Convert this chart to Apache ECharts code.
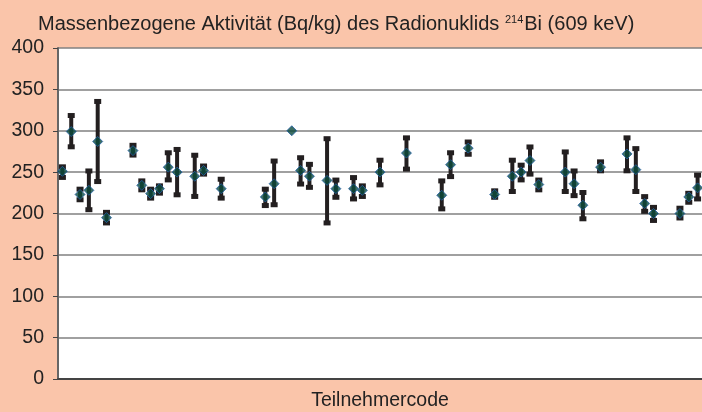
<!DOCTYPE html>
<html>
<head>
<meta charset="utf-8">
<script src="https://cdn.jsdelivr.net/npm/echarts@6/dist/echarts.min.js"></script>
<style>
  html, body { margin: 0; padding: 0; background: #FAC5AA; }
  #chart { width: 702px; height: 412px; }
</style>
</head>
<body>
<div id="chart"></div>
<script>
var myChart = echarts.init(document.getElementById('chart'));

// Teilnehmer (73 Positionen), Mittelwert und Unsicherheitsgrenzen in Bq/kg
var codes = [];
for (var i = 1; i <= 73; i++) codes.push(String(i));

var werte = [251, 299, 223, 228, 287, 195, null, null, 276, 234, 224, 230, 256, 250, null, 245, 252, null, 230, null,
             null, null, null, 220, 236, null, 300, 252, 245, null, 240, 230, null, 230, 228, null, 250, null, null, 273,
             null, null, null, 222, 259, null, 279, null, null, 223, null, 245, 250, 264, 235, null, null, 250, 236, 210,
             null, 256, null, null, 272, 253, 212, 200, null, null, 200, 220, 231];
var unten = [243, 280, 216, 204, 238, 188, null, null, 270, 228, 218, 224, 240, 222, null, 220, 247, null, 218, null,
             null, null, null, 209, 210, null, null, 235, 231, null, 188, 219, null, 217, 220, null, 234, null, null, 253,
             null, null, null, 205, 244, null, 271, null, null, 219, null, 226, 240, 247, 228, null, null, 226, 221, 193,
             null, 251, null, null, 251, 226, 202, 191, null, null, 194, 213, 217];
var oben = [257, 319, 230, 252, 336, 202, null, null, 283, 240, 230, 234, 274, 278, null, 271, 258, null, 242, null,
            null, null, null, 230, 264, null, null, 268, 260, null, 291, 241, null, 244, 234, null, 265, null, null, 292,
            null, null, null, 240, 274, null, 287, null, null, 228, null, 265, 259, 281, 241, null, null, 275, 252, 226,
            null, 263, null, null, 292, 279, 221, 208, null, null, 207, 225, 247];

var fehlerDaten = [];
for (var k = 0; k < codes.length; k++) {
    if (unten[k] != null) fehlerDaten.push([k, unten[k], oben[k]]);
}

var schrift = 'Liberation Sans';

var option = {
    backgroundColor: '#FAC5AA',
    animation: false,
    title: {
        text: '{a|Massenbezogene Aktivität (Bq/kg) des Radionuklids }{s|214}{a|Bi (609 keV)}',
        left: 33,
        top: 9,
        textStyle: {
            rich: {
                a: { fontFamily: schrift, fontSize: 20, color: '#222', fontWeight: 'normal' },
                s: { fontFamily: schrift, fontSize: 11, color: '#222', fontWeight: 'normal', verticalAlign: 'top', padding: [0, 1, 9, 0] }
            }
        }
    },
    grid: {
        left: 58,
        right: 0,
        top: 48,
        bottom: 33,
        outerBoundsMode: 'none',
        containLabel: false,
        show: true,
        backgroundColor: '#fff',
        borderWidth: 0
    },
    xAxis: {
        type: 'category',
        data: codes,
        name: 'Teilnehmercode',
        nameLocation: 'middle',
        nameGap: 12,
        nameTextStyle: { fontFamily: schrift, fontSize: 19.5, color: '#222', verticalAlign: 'top' },
        axisLine: { show: true, lineStyle: { color: '#444', width: 2 } },
        axisTick: { show: false },
        axisLabel: { show: false },
        splitLine: { show: false }
    },
    yAxis: {
        type: 'value',
        min: 0,
        max: 400,
        interval: 50,
        axisLine: { show: true, lineStyle: { color: '#666', width: 2 } },
        axisTick: { show: true, length: 5, lineStyle: { color: '#444', width: 1 } },
        axisLabel: { fontFamily: schrift, fontSize: 19.5, color: '#222', margin: 14 },
        splitLine: { show: true, lineStyle: { color: '#808080', width: 1.5 } }
    },
    series: [{
        name: 'Unsicherheit',
        type: 'custom',
        data: fehlerDaten,
        encode: { x: 0, y: [1, 2] },
        renderItem: function (params, api) {
            var x = api.value(0);
            var lo = api.coord([x, api.value(1)]);
            var hi = api.coord([x, api.value(2)]);
            var st = { fill: '#231f20' };
            return {
                type: 'group',
                children: [
                    { type: 'rect', shape: { x: lo[0] - 2, y: hi[1], width: 4, height: lo[1] - hi[1] }, style: st },
                    { type: 'rect', shape: { x: hi[0] - 3.5, y: hi[1] - 2, width: 7, height: 5 }, style: st },
                    { type: 'rect', shape: { x: lo[0] - 3.5, y: lo[1] - 3, width: 7, height: 5 }, style: st }
                ]
            };
        },
        z: 2
    }, {
        name: 'Mittelwert',
        type: 'scatter',
        data: werte,
        symbol: 'diamond',
        symbolSize: [10, 10],
        itemStyle: { color: '#0b4a3c', borderColor: '#2462a8', borderWidth: 1 },
        z: 3
    }]
};

myChart.setOption(option);
</script>
</body>
</html>
